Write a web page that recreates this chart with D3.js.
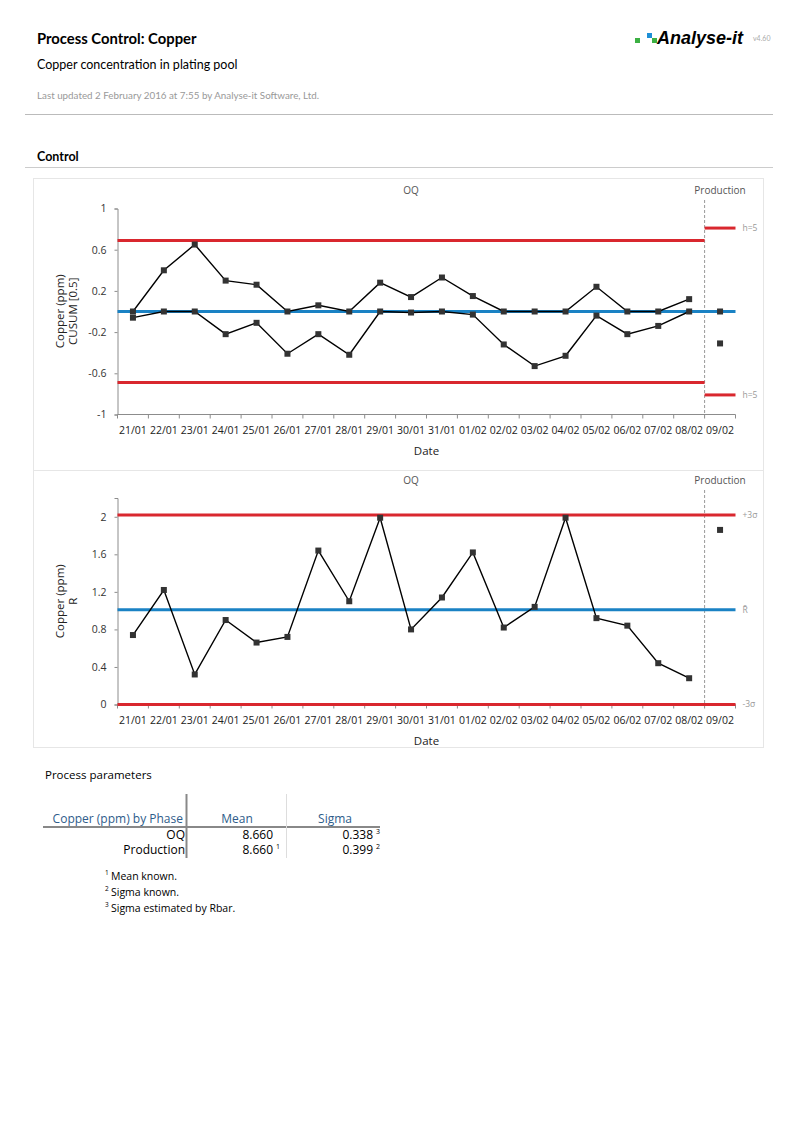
<!DOCTYPE html>
<html>
<head>
<meta charset="utf-8">
<script src="https://cdn.jsdelivr.net/npm/d3@7"></script>
<style>
  body { margin: 0; background: #fff; }
  svg { display: block; font-family: Lato, "Open Sans", sans-serif; }
  .os { font-family: "Open Sans", sans-serif; }
</style>
</head>
<body>
<svg id="page" width="800" height="1132"></svg>
<script>
// data
const dates = ['21/01','22/01','23/01','24/01','25/01','26/01','27/01','28/01','29/01','30/01',
  '31/01','01/02','02/02','03/02','04/02','05/02','06/02','07/02','08/02','09/02']
const phaseOf = dates.map((d, i) => i < 19 ? 'OQ' : 'Production')
const phases = ['OQ', 'Production']

const cusumHi = [0, 0.40, 0.65, 0.30, 0.26, 0, 0.06, 0, 0.28, 0.14, 0.33, 0.15, 0, 0, 0, 0.24, 0, 0, 0.12, 0]
const cusumLo = [-0.06, 0, 0, -0.22, -0.11, -0.41, -0.22, -0.42, 0, -0.01, 0, -0.03, -0.32, -0.53, -0.43, -0.04, -0.22, -0.14, 0, -0.31]
const hLimit = [0.69, 0.81]           // by phase
const ranges = [0.74, 1.22, 0.32, 0.90, 0.66, 0.72, 1.64, 1.10, 1.99, 0.80, 1.14, 1.62, 0.82, 1.04, 1.99, 0.92, 0.84, 0.44, 0.28, 1.86]
const rUCL = 2.02, rBar = 1.01, rLCL = 0

const cusumTicks = [-1, -0.6, -0.2, 0.2, 0.6, 1]
const rTicks = [0, 0.4, 0.8, 1.2, 1.6, 2]

const paramRows = [
  { phase: 'OQ', mean: '8.660', meanNote: '', sigma: '0.338', sigmaNote: '3' },
  { phase: 'Production', mean: '8.660', meanNote: '1', sigma: '0.399', sigmaNote: '2' }
]
const footnotes = ['Mean known.', 'Sigma known.', 'Sigma estimated by Rbar.']

const RED = '#d9272e', BLUE = '#1a82c4', GREY = '#8c8c8c'

const svg = d3.select('#page')

// header
svg.append('text').attr('x', 37).attr('y', 44).attr('font-size', 14.8).attr('font-weight', 'bold').text('Process Control: Copper')
svg.append('text').attr('x', 37).attr('y', 69).attr('font-size', 12.5).text('Copper concentration in plating pool')
svg.append('text').attr('x', 37).attr('y', 99).attr('font-size', 9.8).attr('fill', '#999')
  .text('Last updated 2 February 2016 at 7:55 by Analyse-it Software, Ltd.')
svg.append('line').attr('x1', 25).attr('x2', 773).attr('y1', 114.5).attr('y2', 114.5).attr('stroke', '#bbb')

// logo
svg.append('rect').attr('x', 635).attr('y', 38).attr('width', 5).attr('height', 5).attr('fill', '#3cb043')
svg.append('rect').attr('x', 647).attr('y', 33).attr('width', 5).attr('height', 5).attr('fill', '#1d8fd6')
svg.append('rect').attr('x', 652).attr('y', 38).attr('width', 5).attr('height', 5).attr('fill', '#3cb043')
svg.append('text').attr('x', 657).attr('y', 44).attr('font-size', 18).attr('font-weight', 'bold')
  .attr('font-style', 'italic').attr('font-family', 'Liberation Sans, Arial').text('Analyse-it')
svg.append('text').attr('x', 753).attr('y', 41).attr('font-size', 7).attr('fill', '#aaa').text('v4.60')

svg.append('text').attr('x', 37).attr('y', 161).attr('font-size', 12.5).attr('font-weight', 'bold').text('Control')
svg.append('line').attr('x1', 25).attr('x2', 773).attr('y1', 167.5).attr('y2', 167.5).attr('stroke', '#ccc')

// chart frame
svg.append('rect').attr('x', 33.5).attr('y', 178.5).attr('width', 730).attr('height', 569)
  .attr('fill', 'none').attr('stroke', '#e6e6e6')
svg.append('line').attr('x1', 33.5).attr('x2', 763.5).attr('y1', 470.5).attr('y2', 470.5).attr('stroke', '#e6e6e6')

const x = d3.scaleBand().domain(dates).range([117.5, 735.5]).padding(0)
const mid = d => x(d) + x.bandwidth() / 2
const splitX = x(dates[19])

function panel({ y, top, bottom, ticks, minor, titles }) {
  const g = svg.append('g').attr('class', 'os')
  // phase labels
  g.append('text').attr('x', (x.range()[0] + splitX) / 2).attr('y', top - 14).attr('text-anchor', 'middle')
    .attr('font-size', 10).attr('fill', '#555').text('OQ')
  g.append('text').attr('x', (splitX + x.range()[1]) / 2).attr('y', top - 14).attr('text-anchor', 'middle')
    .attr('font-size', 10).attr('fill', '#555').text('Production')
  // divider
  g.append('line').attr('x1', splitX).attr('x2', splitX).attr('y1', top - 8).attr('y2', bottom)
    .attr('stroke', '#999').attr('stroke-dasharray', '3,2')

  // y axis
  const ya = g.append('g').attr('transform', `translate(${x.range()[0]},0)`)
    .call(d3.axisLeft(y).tickValues(minor).tickSize(3).tickFormat(''))
  ya.call(d3.axisLeft(y).tickValues(ticks).tickSize(3).tickPadding(8).tickFormat(d => String(d)))
  ya.selectAll('path').attr('stroke', GREY)
  ya.selectAll('line').attr('stroke', GREY)
  ya.selectAll('text').attr('font-size', 10.5).attr('fill', '#333').attr('font-family', '"Open Sans", sans-serif')
  const yMid = (top + bottom) / 2
  titles.forEach((t, i) => {
    g.append('text').attr('transform', `translate(${64 + i * 13},${yMid}) rotate(-90)`)
      .attr('text-anchor', 'middle').attr('font-size', 11.5).attr('fill', '#222').text(t)
  })

  // x axis
  const xa = g.append('g').attr('transform', `translate(0,${bottom})`)
    .call(d3.axisBottom(x).tickSize(0).tickPadding(12))
  xa.select('.domain').remove()
  xa.selectAll('text').attr('font-size', 10.5).attr('fill', '#222').attr('font-family', '"Open Sans", sans-serif')
  const bounds = dates.map(d => x(d)).concat([x.range()[1]])
  g.append('line').attr('x1', x.range()[0]).attr('x2', x.range()[1]).attr('y1', bottom).attr('y2', bottom).attr('stroke', GREY)
  g.selectAll('.xb').data(bounds).join('line').attr('x1', d => d).attr('x2', d => d)
    .attr('y1', bottom).attr('y2', bottom + 4).attr('stroke', GREY)
  g.append('text').attr('x', (x.range()[0] + x.range()[1]) / 2).attr('y', bottom + 40)
    .attr('text-anchor', 'middle').attr('font-size', 11.5).attr('fill', '#222').text('Date')
  return g
}

function hline(g, y, x1, x2, color) {
  g.append('line').attr('x1', x1).attr('x2', x2).attr('y1', y).attr('y2', y)
    .attr('stroke', color).attr('stroke-width', 3)
}
function limitLabel(g, y, txt) {
  g.append('text').attr('x', x.range()[1] + 7).attr('y', y).attr('dy', '0.35em')
    .attr('font-size', 8.5).attr('fill', '#999').text(txt)
}
function series(g, y, vals) {
  const oq = vals.map((v, i) => ({ d: dates[i], v })).filter((p, i) => phaseOf[i] === 'OQ')
  g.append('path').datum(oq).attr('fill', 'none').attr('stroke', '#000').attr('stroke-width', 1.4)
    .attr('d', d3.line().x(p => mid(p.d)).y(p => y(p.v)))
  g.selectAll(null).data(vals.map((v, i) => ({ d: dates[i], v }))).join('rect')
    .attr('x', p => mid(p.d) - 3).attr('y', p => y(p.v) - 3).attr('width', 6).attr('height', 6)
    .attr('fill', '#333')
}

// CUSUM panel
const yC = d3.scaleLinear().domain([-1, 1]).range([414.5, 208.5])
const gC = panel({ y: yC, top: 208, bottom: 414.5, ticks: cusumTicks,
  minor: d3.range(-1, 1.01, 0.2).map(v => +v.toFixed(1)), titles: ['Copper (ppm)', 'CUSUM [0.5]'] })
hline(gC, yC(hLimit[0]), x.range()[0], splitX, RED)
hline(gC, yC(-hLimit[0]), x.range()[0], splitX, RED)
hline(gC, yC(hLimit[1]), splitX, x.range()[1], RED)
hline(gC, yC(-hLimit[1]), splitX, x.range()[1], RED)
limitLabel(gC, yC(hLimit[1]), 'h=5')
limitLabel(gC, yC(-hLimit[1]), 'h=5')
hline(gC, yC(0), x.range()[0], x.range()[1], BLUE)
series(gC, yC, cusumHi)
series(gC, yC, cusumLo)

// Range panel
const yR = d3.scaleLinear().domain([0, 2.2]).range([704.5, 498])
const gR = panel({ y: yR, top: 498, bottom: 704.5, ticks: rTicks,
  minor: d3.range(0, 2.21, 0.2).map(v => +v.toFixed(1)), titles: ['Copper (ppm)', 'R'] })
hline(gR, yR(rUCL), x.range()[0], x.range()[1], RED)
hline(gR, yR(rBar), x.range()[0], x.range()[1], BLUE)
hline(gR, yR(rLCL), x.range()[0], x.range()[1], RED)
limitLabel(gR, yR(rUCL), '+3σ')
limitLabel(gR, yR(rBar), 'R̄')
limitLabel(gR, yR(rLCL), '-3σ')
series(gR, yR, ranges)

// process parameters table
svg.append('text').attr('class', 'os').attr('x', 45).attr('y', 779).attr('font-size', 11.5).text('Process parameters')
const tb = svg.append('g').attr('class', 'os')
const HEAD = '#2e5c8a'
tb.append('text').attr('x', 183).attr('y', 823).attr('text-anchor', 'end').attr('font-size', 12).attr('fill', HEAD).text('Copper (ppm) by Phase')
tb.append('text').attr('x', 237).attr('y', 823).attr('text-anchor', 'middle').attr('font-size', 12).attr('fill', HEAD).text('Mean')
tb.append('text').attr('x', 335).attr('y', 823).attr('text-anchor', 'middle').attr('font-size', 12).attr('fill', HEAD).text('Sigma')
tb.append('line').attr('x1', 43).attr('x2', 380).attr('y1', 827).attr('y2', 827).attr('stroke', '#888').attr('stroke-width', 2)
tb.append('line').attr('x1', 186.5).attr('x2', 186.5).attr('y1', 794).attr('y2', 858).attr('stroke', '#888').attr('stroke-width', 2)
tb.append('line').attr('x1', 286.5).attr('x2', 286.5).attr('y1', 794).attr('y2', 858).attr('stroke', '#ddd')
paramRows.forEach((r, i) => {
  const yy = 839 + i * 15
  tb.append('text').attr('x', 185).attr('y', yy).attr('text-anchor', 'end').attr('font-size', 12).text(r.phase)
  tb.append('text').attr('x', 273).attr('y', yy).attr('text-anchor', 'end').attr('font-size', 12).text(r.mean)
  tb.append('text').attr('x', 276).attr('y', yy - 5).attr('font-size', 7).text(r.meanNote)
  tb.append('text').attr('x', 373).attr('y', yy).attr('text-anchor', 'end').attr('font-size', 12).text(r.sigma)
  tb.append('text').attr('x', 376).attr('y', yy - 5).attr('font-size', 7).text(r.sigmaNote)
})
footnotes.forEach((f, i) => {
  const yy = 880 + i * 16
  tb.append('text').attr('x', 105).attr('y', yy - 5).attr('font-size', 6.5).text(i + 1)
  tb.append('text').attr('x', 111).attr('y', yy).attr('font-size', 10.5).text(f)
})
</script>
</body>
</html>
